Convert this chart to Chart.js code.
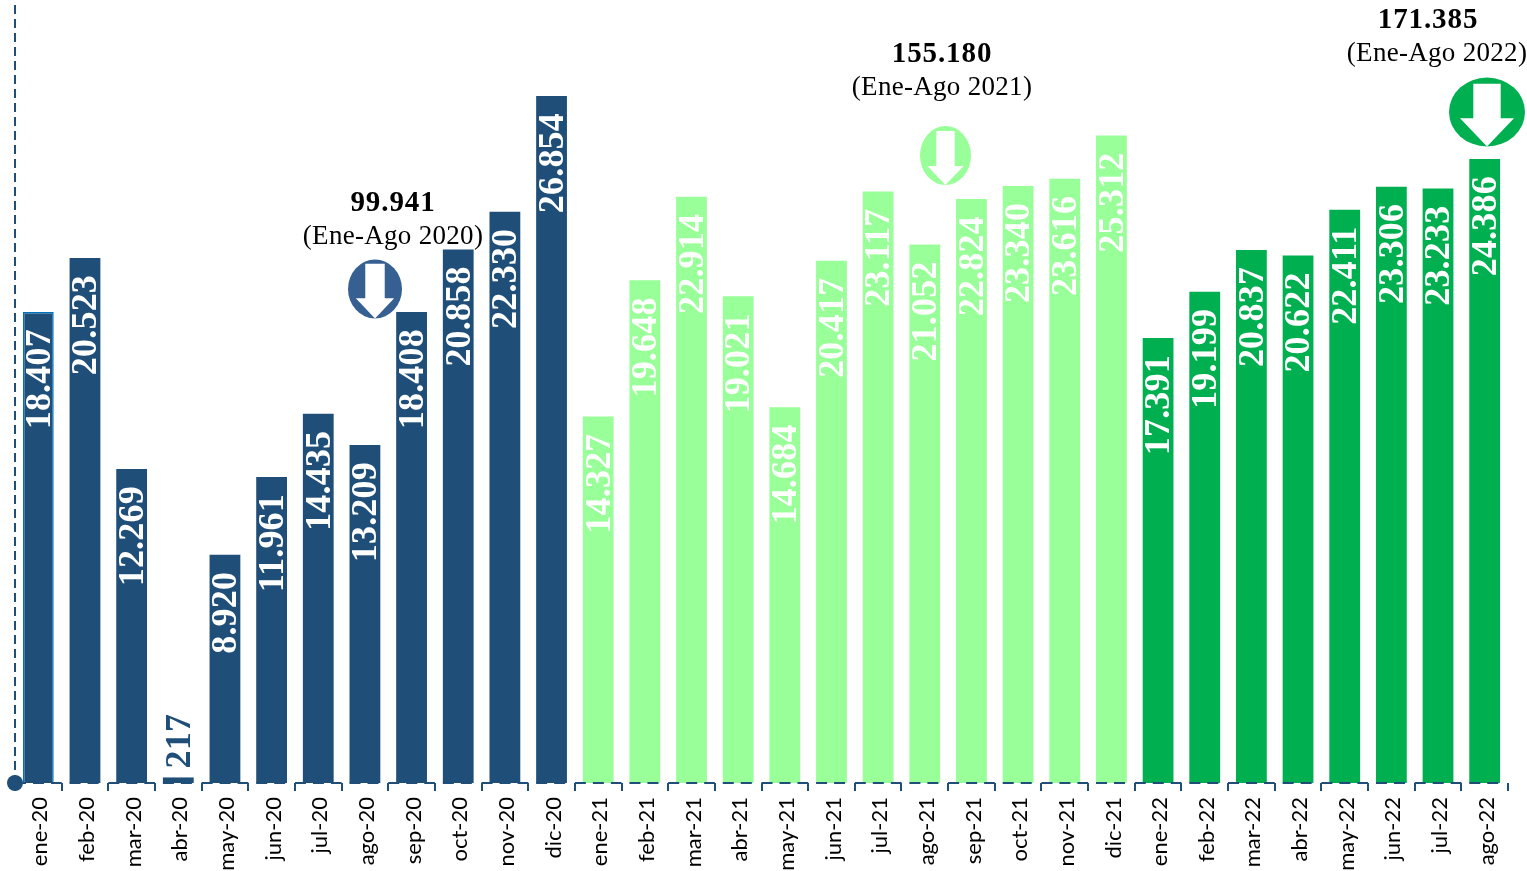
<!DOCTYPE html>
<html>
<head>
<meta charset="utf-8">
<style>
  html, body { margin: 0; padding: 0; background: #fff; }
  #wrap { width: 1527px; height: 871px; }
</style>
<script src="https://cdn.jsdelivr.net/npm/chart.js@4"></script>
</head>
<body>
<div id="wrap"><canvas id="chart" width="1527" height="871"></canvas></div>
<script>
const months = ["ene-20","feb-20","mar-20","abr-20","may-20","jun-20","jul-20","ago-20","sep-20","oct-20","nov-20","dic-20",
  "ene-21","feb-21","mar-21","abr-21","may-21","jun-21","jul-21","ago-21","sep-21","oct-21","nov-21","dic-21",
  "ene-22","feb-22","mar-22","abr-22","may-22","jun-22","jul-22","ago-22"];
const values = [18407,20523,12269,217,8920,11961,14435,13209,18408,20858,22330,26854,
  14327,19648,22914,19021,14684,20417,23117,21052,22824,23340,23616,25312,
  17391,19199,20837,20622,22411,23306,23233,24386];
const valueLabels = ["18.407","20.523","12.269","217","8.920","11.961","14.435","13.209","18.408","20.858","22.330","26.854",
  "14.327","19.648","22.914","19.021","14.684","20.417","23.117","21.052","22.824","23.340","23.616","25.312",
  "17.391","19.199","20.837","20.622","22.411","23.306","23.233","24.386"];
const totals = ["99.941","155.180","171.385"];
const periods = ["(Ene-Ago 2020)","(Ene-Ago 2021)","(Ene-Ago 2022)"];

const BLUE = "#1F4E79", LIGHT = "#99FF99", GREEN = "#00B050";
const barColor = (i) => (i < 12 ? BLUE : i < 24 ? LIGHT : GREEN);

// the dashed axes: chart.js does not dash the border itself
const dashedAxes = {
  id: "dashedAxes",
  afterDatasetsDraw(chart) {
    const ctx = chart.ctx;
    const { left, top, bottom } = chart.chartArea;
    ctx.save();
    ctx.strokeStyle = BLUE;
    ctx.lineWidth = 2;
    ctx.setLineDash([9, 5]);
    ctx.beginPath();
    ctx.moveTo(left, top);
    ctx.lineTo(left, bottom);
    ctx.stroke();
    // bottom line runs the full slot on odd months, only under the bar on even ones
    ctx.setLineDash([11, 7]);
    const step = chart.scales.x.getPixelForValue(1) - chart.scales.x.getPixelForValue(0);
    chart.getDatasetMeta(0).data.forEach((bar, i) => {
      const half = i % 2 === 0 ? step / 2 : bar.width / 2;
      ctx.beginPath();
      ctx.moveTo(bar.x - half, bottom);
      ctx.lineTo(bar.x + half, bottom);
      ctx.stroke();
    });
    ctx.restore();
  },
};

// value labels turned 90 degrees, inside the top of the bar (above it when it is too short)
const barLabels = {
  id: "barLabels",
  afterDatasetsDraw(chart) {
    const ctx = chart.ctx;
    chart.getDatasetMeta(0).data.forEach((bar, i) => {
      const small = values[i] < 1000;
      ctx.save();
      ctx.translate(bar.x + 2, bar.y + (small ? -9 : 17));
      ctx.rotate(-Math.PI / 2);
      ctx.font = "bold 36px 'Liberation Serif'";
      ctx.letterSpacing = "0.2px";
      ctx.textBaseline = "middle";
      ctx.textAlign = small ? "left" : "right";
      ctx.fillStyle = small ? BLUE : "#fff";
      ctx.fillText(valueLabels[i], 0, 0);
      ctx.restore();
    });
  },
};

function badge(ctx, b) {
  ctx.fillStyle = b.color;
  ctx.beginPath();
  ctx.ellipse(b.cx, b.cy, b.rx, b.ry, 0, 0, Math.PI * 2);
  ctx.fill();
  const s = b.rx * 0.36, h = b.rx * 0.71;
  const top = b.cy - b.ry * b.top, neck = b.cy + b.ry * b.neck, tip = b.cy + b.ry;
  ctx.fillStyle = "#fff";
  ctx.beginPath();
  ctx.moveTo(b.cx - s, top);
  ctx.lineTo(b.cx + s, top);
  ctx.lineTo(b.cx + s, neck);
  ctx.lineTo(b.cx + h, neck);
  ctx.lineTo(b.cx, tip);
  ctx.lineTo(b.cx - h, neck);
  ctx.lineTo(b.cx - s, neck);
  ctx.closePath();
  ctx.fill();
}

// totals above the three groups, with their arrow badges
const notes = {
  id: "notes",
  afterDraw(chart) {
    const ctx = chart.ctx;
    const spots = [
      { x: 393, y: 203, cx: 375, cy: 289, rx: 27, ry: 29.5, top: 0.86, neck: 0.31, color: "#376092" },
      { x: 942, y: 54, cx: 945.5, cy: 155.5, rx: 25.5, ry: 29.5, top: 0.83, neck: 0.36, color: LIGHT },
      { x: 1428, y: 20, cx: 1487, cy: 112, rx: 38, ry: 34.5, top: 0.82, neck: 0.18, color: GREEN },
    ];
    spots.forEach((s, i) => {
      badge(ctx, s);
      ctx.fillStyle = "#000";
      ctx.textAlign = "center";
      ctx.textBaseline = "middle";
      ctx.font = "bold 29px 'Liberation Serif'";
      ctx.letterSpacing = "0.9px";
      ctx.fillText(totals[i], s.x, s.y + 1);
      ctx.font = "27px 'Liberation Serif'";
      ctx.letterSpacing = "0.3px";
      ctx.fillText(periods[i], i === 2 ? s.x + 9 : s.x, s.y + 34);
    });
    ctx.letterSpacing = "0px";
    // dot where the two axes meet
    ctx.fillStyle = BLUE;
    ctx.beginPath();
    ctx.arc(chart.chartArea.left, chart.chartArea.bottom, 8, 0, Math.PI * 2);
    ctx.fill();
  },
};

new Chart(document.getElementById("chart"), {
  type: "bar",
  data: {
    labels: months,
    datasets: [{
      data: values,
      backgroundColor: values.map((v, i) => barColor(i)),
      borderColor: values.map((v, i) => (i === 0 ? "#0070C0" : barColor(i))),
      borderWidth: values.map((v, i) => (i === 0 ? 1.5 : 0)),
      barPercentage: 0.66,
      categoryPercentage: 1,
    }],
  },
  plugins: [dashedAxes, barLabels, notes],
  options: {
    responsive: false,
    animation: false,
    layout: { padding: { left: 15, right: 19, top: 5, bottom: 0 } },
    plugins: { legend: { display: false }, tooltip: { enabled: false } },
    scales: {
      x: {
        afterFit(scale) { scale.height = 88; },
        offset: true,
        grid: { drawOnChartArea: false, drawTicks: true, tickLength: 8, color: BLUE, lineWidth: 2, offset: true },
        border: { display: false },
        ticks: {
          minRotation: 90, maxRotation: 90, autoSkip: false, padding: 6, labelOffset: 2,
          color: "#000", font: { family: "Lato", size: 22 },
        },
      },
      y: {
        min: 0, max: 30410,
        afterFit(scale) { scale.width = 0; },
        grid: { display: false },
        border: { display: false },
        ticks: { display: false },
      },
    },
  },
});
</script>
</body>
</html>
